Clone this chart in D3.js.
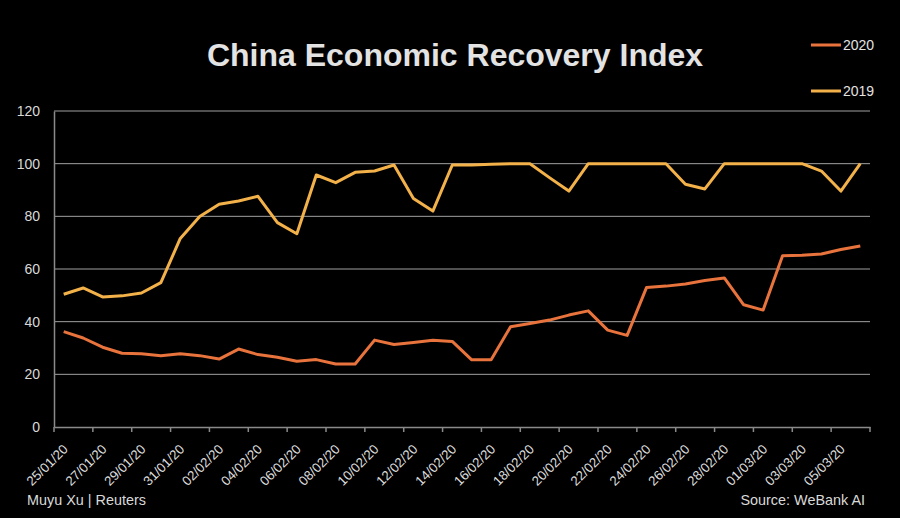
<!DOCTYPE html>
<html>
<head>
<meta charset="utf-8">
<script src="https://cdn.jsdelivr.net/npm/d3@7"></script>
<style>
  html, body { margin: 0; padding: 0; background: #000; }
  svg { display: block; }
  text { font-family: "Liberation Sans", Arial, sans-serif; }
</style>
</head>
<body>
<svg id="chart" width="900" height="518"></svg>
<script>
const dates = [
  "25/01/20","26/01/20","27/01/20","28/01/20","29/01/20","30/01/20","31/01/20",
  "01/02/20","02/02/20","03/02/20","04/02/20","05/02/20","06/02/20","07/02/20",
  "08/02/20","09/02/20","10/02/20","11/02/20","12/02/20","13/02/20","14/02/20",
  "15/02/20","16/02/20","17/02/20","18/02/20","19/02/20","20/02/20","21/02/20",
  "22/02/20","23/02/20","24/02/20","25/02/20","26/02/20","27/02/20","28/02/20",
  "29/02/20","01/03/20","02/03/20","03/03/20","04/03/20","05/03/20","06/03/20"
];
const series2020 = [36.2, 33.8, 30.3, 28.0, 27.8, 27.1, 27.8, 27.1, 25.8, 29.6,
  27.5, 26.5, 25.0, 25.6, 23.9, 23.9, 33.0, 31.3, 32.1, 32.9,
  32.5, 25.5, 25.5, 38.1, 39.3, 40.6, 42.5, 44.1, 36.8, 34.8,
  53.0, 53.5, 54.3, 55.6, 56.6, 46.4, 44.4, 65.0, 65.2, 65.7,
  67.4, 68.7];
const series2019 = [50.4, 52.8, 49.4, 49.8, 50.9, 54.8, 71.6, 79.9, 84.6, 85.8,
  87.6, 77.6, 73.4, 95.7, 92.8, 96.7, 97.2, 99.5, 86.8, 82.0,
  99.5, 99.5, 99.8, 100, 100, 94.7, 89.6, 100, 100, 100,
  100, 100, 92.2, 90.4, 100, 100, 100, 100, 100, 97.2,
  89.6, 100];
const yTicks = [0, 20, 40, 60, 80, 100, 120];
const seriesNames = ["2020", "2019"];
const colors = {"2020": "#E8733C", "2019": "#F3B14A"};

const svg = d3.select("#chart");
const plotLeft = 54, plotRight = 870, plotTop = 111, plotBottom = 427;

const x = d3.scaleBand().domain(dates).range([plotLeft, plotRight]).padding(0);
const y = d3.scaleLinear().domain([0, 120]).range([plotBottom, plotTop]);
const cx = d => x(d) + x.bandwidth() / 2;

// Title
svg.append("text").attr("x", 455).attr("y", 66).attr("text-anchor", "middle")
  .attr("fill", "#e3e3e3").attr("font-size", 32).attr("font-weight", "bold")
  .text("China Economic Recovery Index");

// Gridlines
svg.append("g").selectAll("line").data(yTicks.filter(t => t > 0)).join("line")
  .attr("x1", plotLeft).attr("x2", plotRight)
  .attr("y1", d => y(d)).attr("y2", d => y(d))
  .attr("stroke", "#a0a0a0").attr("stroke-width", 1);

// Y axis
const yAxis = d3.axisLeft(y).tickValues(yTicks).tickSize(0).tickPadding(14);
const gy = svg.append("g").attr("transform", `translate(${plotLeft},0)`).call(yAxis);
gy.select(".domain").attr("stroke", "#8a8a8a").attr("stroke-width", 1.5);
gy.selectAll("text").attr("fill", "#d9d9d9").attr("font-size", 14)
  .attr("font-family", "Liberation Sans, Arial, sans-serif");

// X axis (labels at every second category)
const labelDates = dates.filter((d, i) => i % 2 === 0);
const xAxis = d3.axisBottom(x).tickValues(labelDates).tickSize(0).tickSizeOuter(0);
const gx = svg.append("g").attr("transform", `translate(0,${plotBottom})`).call(xAxis);
gx.select(".domain").attr("stroke", "#8a8a8a").attr("stroke-width", 1.5);
gx.selectAll("text").attr("fill", "#dcdcdc").attr("font-size", 13.3)
  .attr("font-family", "Liberation Sans, Arial, sans-serif")
  .attr("text-anchor", "end").attr("dy", null).attr("y", 0)
  .attr("transform", "translate(5,23) rotate(-45)");

// Tick marks at category-pair boundaries
const tickPos = labelDates.map(d => x(d)).concat([plotRight]);
svg.append("g").selectAll("line").data(tickPos).join("line")
  .attr("x1", d => d).attr("x2", d => d)
  .attr("y1", plotBottom).attr("y2", plotBottom + 5)
  .attr("stroke", "#8a8a8a").attr("stroke-width", 1.5);

// Lines
const line = d3.line().x((v, i) => cx(dates[i])).y(v => y(v)).curve(d3.curveLinear);
svg.append("path").datum(series2019).attr("d", line)
  .attr("fill", "none").attr("stroke", colors["2019"]).attr("stroke-width", 3)
  .attr("stroke-linejoin", "round");
svg.append("path").datum(series2020).attr("d", line)
  .attr("fill", "none").attr("stroke", colors["2020"]).attr("stroke-width", 3)
  .attr("stroke-linejoin", "round");

// Legend
const legendY = {"2020": 45, "2019": 91};
seriesNames.forEach(name => {
  svg.append("line").attr("x1", 811).attr("x2", 841)
    .attr("y1", legendY[name]).attr("y2", legendY[name])
    .attr("stroke", colors[name]).attr("stroke-width", 3);
  svg.append("text").attr("x", 843).attr("y", legendY[name] + 5)
    .attr("fill", "#e3e3e3").attr("font-size", 14).text(name);
});

// Footer
svg.append("text").attr("x", 27).attr("y", 505).attr("fill", "#d9d9d9")
  .attr("font-size", 14.4).text("Muyu Xu | Reuters");
svg.append("text").attr("x", 865).attr("y", 505).attr("text-anchor", "end")
  .attr("fill", "#d9d9d9").attr("font-size", 14.4).text("Source: WeBank AI");
</script>
</body>
</html>
